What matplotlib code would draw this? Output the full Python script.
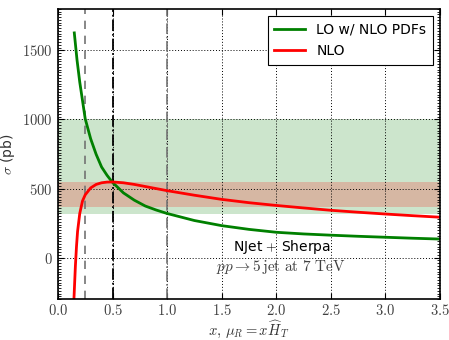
import numpy as np
import matplotlib
matplotlib.use("Agg")
import matplotlib.pyplot as plt
from matplotlib.ticker import MultipleLocator, FuncFormatter

# values
x_lo = [0.15, 0.175, 0.2, 0.25, 0.3, 0.35, 0.4, 0.45, 0.5, 0.6, 0.7, 0.8, 0.9, 1.0,
        1.25, 1.5, 1.75, 2.0, 2.25, 2.5, 2.75, 3.0, 3.25, 3.5]
sigma_lo = [1626, 1430, 1270, 1005, 860, 748, 656, 596, 545, 469, 416, 374, 345, 320,
            269, 232, 205, 184, 172, 163, 155, 148, 141, 135]

x_nlo = [0.14, 0.15, 0.16, 0.17, 0.18, 0.2, 0.225, 0.25, 0.3, 0.35, 0.4, 0.45, 0.5,
         0.6, 0.7, 0.8, 0.9, 1.0, 1.25, 1.5, 1.75, 2.0, 2.25, 2.5, 2.75, 3.0, 3.25, 3.5]
sigma_nlo = [-420, -240, -60, 80, 190, 320, 410, 455, 505, 530, 542, 547, 548,
             542, 530, 515, 500, 485, 452, 422, 398, 378, 360, 343, 329, 316, 304, 293]

lo_band = [316, 1000]
nlo_band = [364, 550]
scale_lines = [0.25, 0.5, 1.0]

plt.rcParams['mathtext.fontset'] = 'cm'

fig = plt.figure(figsize=(4.49, 3.40), dpi=100)
ax = fig.add_axes([0.129, 0.12, 0.851, 0.854])

ax.axhspan(lo_band[0], lo_band[1], color='green', alpha=0.2, lw=0)
ax.axhspan(nlo_band[0], nlo_band[1], color='red', alpha=0.2, lw=0)

ax.axvline(scale_lines[0], color='0.45', ls='--', lw=1.2, dashes=(5, 4))
ax.axvline(scale_lines[1], color='black', ls='-.', lw=1.3)
ax.axvline(scale_lines[2], color='0.45', ls='-.', lw=1.2)

ax.plot(x_lo, sigma_lo, color='green', lw=2, label='LO w/ NLO PDFs')
ax.plot(x_nlo, sigma_nlo, color='red', lw=2, label='NLO')

ax.set_xlim(0, 3.5)
ax.set_ylim(-300, 1800)
ax.xaxis.set_major_locator(MultipleLocator(0.5))
ax.yaxis.set_major_locator(MultipleLocator(500))
ax.yaxis.set_minor_locator(MultipleLocator(20))
ax.xaxis.set_major_formatter(FuncFormatter(lambda v, p: r'$%.1f$' % v))
ax.yaxis.set_major_formatter(FuncFormatter(lambda v, p: r'$%d$' % v))
ax.tick_params(which='both', direction='in', top=True, right=True, labelsize=10.5,
               colors='black', labelcolor='0.25')
ax.tick_params(axis='x', pad=3)
ax.tick_params(axis='y', pad=4)
ax.tick_params(which='major', length=4)
ax.tick_params(which='minor', length=2, width=0.6)
ax.grid(True, ls=(0, (1, 2)), color='black', lw=0.7)
for s in ax.spines.values():
    s.set_linewidth(1.2)

ax.set_xlabel(r'$x,\, \mu_R = x\widehat{H}_T$', fontsize=10.5, color='0.2')
ax.set_ylabel(r'$\sigma$ (pb)', fontsize=10, color='0.2')
ax.xaxis.set_label_coords(0.5, -0.068)
ax.yaxis.set_label_coords(-0.108, 0.5)

ax.text(2.05, 74, r'NJet $+$ Sherpa', ha='center', va='center', fontsize=10)
ax.text(2.04, -64, r'$pp \rightarrow 5\,\mathrm{jet\ at\ 7\ TeV}$', ha='center', va='center',
        fontsize=11, color='0.25')

leg = ax.legend(loc='upper right', fontsize=10, fancybox=False, framealpha=1,
                edgecolor='black', handlelength=2.2, borderpad=0.5)
leg.get_frame().set_linewidth(0.8)

fig.savefig('out.png', dpi=100)
